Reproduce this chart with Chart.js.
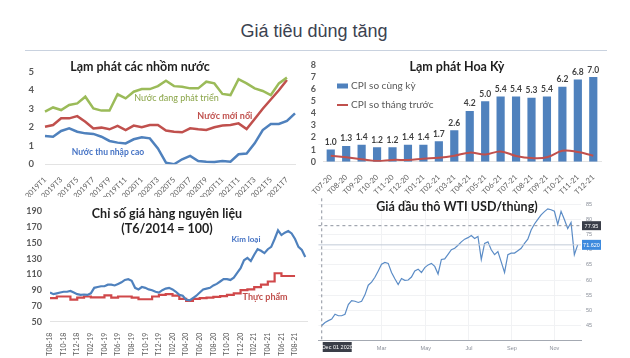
<!DOCTYPE html>
<html>
<head>
<meta charset="utf-8">
<script src="https://cdn.jsdelivr.net/npm/chart.js@4.4.1/dist/chart.umd.min.js"></script>
<style>
  body { margin: 0; background: #fff; }
  #page { position: relative; width: 630px; height: 358px; overflow: hidden; background: #fff; font-family: Lato, "Liberation Sans", sans-serif; }
  canvas { position: absolute; }
  .title { position: absolute; text-align: center; font-weight: bold; font-size: 12.5px; color: #1f1f1f; line-height: 15px; }
  #mainTitle { position: absolute; left: 0; top: 21px; width: 628px; text-align: center; font-family: "Liberation Sans", Arial, sans-serif; font-size: 18px; color: #3b4250; }
  #rule { position: absolute; left: 25px; top: 50px; width: 582px; height: 1px; background: #c9d2df; }
</style>
</head>
<body>
<div id="page">
  <div id="mainTitle">Giá tiêu dùng tăng</div>
  <div id="rule"></div>

  <canvas id="groupsChart" width="310" height="145" style="left:0;top:52px"></canvas>
  <canvas id="usChart" width="320" height="145" style="left:310px;top:52px"></canvas>
  <canvas id="commodityChart" width="320" height="160" style="left:0;top:198px"></canvas>
  <canvas id="oilChart" width="320" height="165" style="left:310px;top:193px"></canvas>

  <div class="title" style="left:40px;top:59px;width:200px">Lạm phát các nhồm nước</div>
  <div class="title" style="left:357px;top:59px;width:200px">Lạm phát Hoa Kỳ</div>
  <div class="title" style="left:67px;top:206px;width:200px">Chỉ số giá hàng nguyên liệu<br>(T6/2014 = 100)</div>
  <div class="title" style="left:357px;top:199px;width:200px">Giá dầu thô WTI USD/thùng)</div>
</div>

<script>
// Lạm phát các nhóm nước (%), monthly
const groupMonths = ['2019T1','2019T2','2019T3','2019T4','2019T5','2019T6','2019T7','2019T8','2019T9','2019T10','2019T11','2019T12',
  '2020T1','2020T2','2020T3','2020T4','2020T5','2020T6','2020T7','2020T8','2020T9','2020T10','2020T11','2020T12',
  '2021T1','2021T2','2021T3','2021T4','2021T5','2021T6','2021T7','2021T8'];
const developingCpi = [2.84,3.07,2.93,3.2,3.29,3.65,3.02,2.9,2.9,3.78,3.56,3.92,
  4.06,4.06,4.22,4.51,4.22,4.19,4.1,4.1,4.46,4.37,3.8,3.74,
  4.6,4.37,4.1,3.96,3.74,4.37,4.68,null];
const emergingCpi = [2.03,2.12,2.48,2.48,2.6,2.3,1.94,1.98,1.89,2.07,1.85,2.09,
  2.0,2.12,2.12,1.82,1.76,1.73,1.94,1.89,1.85,2.0,2.1,2.12,
  2.21,1.9,2.45,3.0,3.5,4.0,4.55,null];
const highIncomeCpi = [1.53,1.49,1.8,1.94,1.76,1.67,1.64,1.49,1.26,1.17,1.13,1.35,
  1.46,1.4,0.86,0.09,0.0,0.27,0.45,0.18,0.14,0.13,0.18,0.14,
  0.54,0.58,1.13,1.85,2.18,2.18,2.34,2.75];

// Lạm phát Hoa Kỳ (%)
const usMonths = ['T07-20','T08-20','T09-20','T10-20','T11-20','T12-20','T01-21','T02-21','T03-21',
  'T04-21','T05-21','T06-21','T07-21','T08-21','T09-21','T10-21','T11-21','T12-21'];
const usCpiYoY = [1.0,1.3,1.4,1.2,1.2,1.4,1.4,1.7,2.6,4.2,5.0,5.4,5.4,5.3,5.4,6.2,6.8,7.0];
const usCpiMoM = [0.5,0.36,0.2,0.05,0.15,0.15,0.25,0.33,0.5,0.75,0.6,0.85,0.48,0.3,0.36,0.9,0.8,0.5];

// Chỉ số giá hàng nguyên liệu, month 0 = T08-18
const commodityTickLabels = ['T08-18','T10-18','T12-18','T02-19','T04-19','T06-19','T08-19','T10-19','T12-19','T02-20',
  'T04-20','T06-20','T08-20','T10-20','T12-20','T02-21','T04-21','T06-21','T08-21'];
const commodityTickMonths = [0,2,4,6,8,10,12,14,16,18,20,22,24,26,28,30,32,34,36];
// kim loại: two readings per month
const metalsIndex = [87,85,86,87,88,88,89,87,85,84,84.5,84,
  86,93,94,95,95,97,97,96,98,100,103,104,
  102,93,91,94,93,91,90,88,87,90,92,93,
  91,88,84,83,78,77,80,83,87,91,92,93,
  96,98,101,104,104,103,106,112,118,128,131,127,
  135,142,140,137,142,145,155,166,160,163,165,162,
  155,145,141,132];
// thực phẩm: one reading per month
const foodIndex = [80,80,82,82,78,80.5,82,81,81,83.5,80.5,82,82,80.5,78.5,78.5,82,84,85,83,79,76.5,79,80,80.5,81.5,82.5,84,86,90,91,94,97,101,111.5,108,108];

// Giá dầu WTI, evenly spaced readings from Dec 01 2020
const wtiPrices = [45,46,46.6,47.1,48.7,48.2,48.2,48.7,51.9,53.2,53,52.6,53,55.1,58.3,59.3,60.9,63,65.2,65.8,
  65.5,62.5,60.4,58.5,60.5,59.9,60,61,63,63.6,62.5,64.1,65,65.5,64.5,62,66.8,67,68.5,70,
  70.5,71.5,72.6,73.5,74,74.7,73.7,74.4,66.8,72.1,72.6,70,68.4,69.4,66,62.5,68.4,68.9,68.9,69.7,
  70.5,72.1,73.5,76.5,78.5,80,81.5,82.6,83.5,83.2,82.7,78.4,82.7,80,77,79,68.4,71.62];
const wtiTickLabels = ['Mar','May','Jul','Sep','Nov'];
const wtiTickIndex = [18,31.3,44.3,57.2,70];
const wtiPriceTicks = [45,50,55,60,65,70,75,80,85];
const wtiCrosshairPrice = 77.95;
const wtiCrosshairDate = 'Dec 01 2020';
const wtiLastLabel = '71.620';

Chart.defaults.font.family = 'Lato, "Liberation Sans", sans-serif';
Chart.defaults.animation = false;
Chart.defaults.responsive = false;
Chart.defaults.plugins.legend.display = false;
Chart.defaults.plugins.tooltip.enabled = false;

const axisGray = '#595959';

// text labels placed in data coordinates
const seriesTags = {
  id: 'seriesTags',
  afterDatasetsDraw(chart, args, opts) {
    const ctx = chart.ctx;
    ctx.save();
    ctx.textAlign = 'center';
    ctx.textBaseline = 'middle';
    (opts.items || []).forEach(t => {
      ctx.font = t.font;
      ctx.fillStyle = t.color;
      ctx.fillText(t.text, chart.scales.x.getPixelForValue(t.x), chart.scales.y.getPixelForValue(t.y));
    });
    ctx.restore();
  }
};

// ---- Lạm phát các nhóm nước
new Chart(document.getElementById('groupsChart'), {
  type: 'line',
  data: {
    labels: groupMonths,
    datasets: [
      { label: 'Nước đang phát triển', data: developingCpi, borderColor: '#9bbb59' },
      { label: 'Nước mới nổi', data: emergingCpi, borderColor: '#c0504d' },
      { label: 'Nước thu nhập cao', data: highIncomeCpi, borderColor: '#4f81bd' }
    ]
  },
  options: {
    layout: { autoPadding: false, padding: { top: 19.7, right: 15, left: 0, bottom: 0 } },
    elements: { point: { radius: 0 }, line: { borderWidth: 2.5, tension: 0 } },
    plugins: {
      seriesTags: { items: [
        { text: 'Nước đang phát triển', x: 16.3, y: 3.55, color: '#8aa548', font: '9px Lato' },
        { text: 'Nước mới nổi', x: 22.3, y: 2.6, color: '#c0504d', font: 'bold 9px Lato' },
        { text: 'Nước thu nhập cao', x: 7.8, y: 0.66, color: '#4472c4', font: 'bold 8.5px Lato' }
      ] }
    },
    scales: {
      x: {
        grid: { display: false },
        border: { color: '#e3e3e3' },
        ticks: { autoSkip: false, minRotation: 45, maxRotation: 45, padding: 3, color: axisGray, font: { size: 7.5 },
          callback: (v, i) => i % 2 === 0 ? groupMonths[i] : '' },
        afterFit: s => { s.height = 32.7; }
      },
      y: {
        min: 0, max: 5,
        grid: { display: false, drawTicks: false },
        border: { display: false },
        ticks: { stepSize: 1, autoSkip: false, padding: 11, color: axisGray, font: { size: 9.5, weight: 'bold' } },
        afterFit: s => { s.width = 45; }
      }
    }
  },
  plugins: [seriesTags]
});

// ---- Lạm phát Hoa Kỳ
const barValues = {
  id: 'barValues',
  afterDatasetsDraw(chart) {
    const ctx = chart.ctx;
    const meta = chart.getDatasetMeta(0);
    ctx.save();
    ctx.font = 'bold 8.5px Lato';
    ctx.fillStyle = '#404040';
    ctx.textAlign = 'center';
    ctx.textBaseline = 'bottom';
    meta.data.forEach((bar, i) => {
      ctx.fillText(chart.data.datasets[0].data[i].toFixed(1), bar.x, bar.y - 3);
    });
    ctx.restore();
  }
};
const usLegend = {
  id: 'usLegend',
  afterDraw(chart) {
    const ctx = chart.ctx;
    ctx.save();
    ctx.font = '10px Lato';
    ctx.textBaseline = 'middle';
    chart.data.datasets.forEach((ds, i) => {
      const y = 34 + i * 19;
      if (ds.type === 'line') {
        ctx.strokeStyle = ds.borderColor;
        ctx.lineWidth = 2;
        ctx.beginPath(); ctx.moveTo(27, y); ctx.lineTo(38, y); ctx.stroke();
      } else {
        ctx.fillStyle = ds.backgroundColor;
        ctx.fillRect(27, y - 2.5, 11, 5);
      }
      ctx.fillStyle = axisGray;
      ctx.fillText(ds.label, 41, y);
    });
    ctx.restore();
  }
};
new Chart(document.getElementById('usChart'), {
  type: 'bar',
  data: {
    labels: usMonths,
    datasets: [
      { type: 'bar', label: 'CPI so cùng kỳ', data: usCpiYoY, backgroundColor: '#4f81bd',
        barPercentage: 0.53, categoryPercentage: 1, order: 2 },
      { type: 'line', label: 'CPI so tháng trước', data: usCpiMoM, borderColor: '#c0504d',
        borderWidth: 2, tension: 0.4, pointRadius: 0, order: 1 }
    ]
  },
  options: {
    layout: { autoPadding: false, padding: { top: 13, right: 29, left: 0, bottom: 0 } },
    scales: {
      x: {
        grid: { display: false },
        border: { color: '#e3e3e3' },
        ticks: { autoSkip: false, minRotation: 45, maxRotation: 45, padding: 3, color: axisGray, font: { size: 7.5 } },
        afterFit: s => { s.height = 35.3; }
      },
      y: {
        min: 0, max: 8,
        grid: { display: false, drawTicks: false },
        border: { display: false },
        ticks: { stepSize: 1, autoSkip: false, padding: 7, color: axisGray, font: { size: 9, weight: 'bold' } },
        afterFit: s => { s.width = 12; }
      }
    }
  },
  plugins: [barValues, usLegend]
});

// ---- Chỉ số giá hàng nguyên liệu
new Chart(document.getElementById('commodityChart'), {
  type: 'line',
  data: {
    datasets: [
      { label: 'Kim loại', data: metalsIndex.map((v, i) => ({ x: i / 2, y: v })), borderColor: '#4f81bd' },
      { label: 'Thực phẩm', data: foodIndex.map((v, i) => ({ x: i, y: v })), borderColor: '#d0484a', stepped: 'after' }
    ]
  },
  options: {
    layout: { autoPadding: false, padding: { top: 12, right: 12.7, left: 0, bottom: 0 } },
    elements: { point: { radius: 0 }, line: { borderWidth: 2.2, tension: 0 } },
    plugins: {
      seriesTags: { items: [
        { text: 'Kim loại', x: 28.8, y: 155, color: '#4472c4', font: 'bold 8px Lato' },
        { text: 'Thực phẩm', x: 31.6, y: 81, color: '#c0504d', font: 'bold 9px Lato' }
      ] }
    },
    scales: {
      x: {
        type: 'linear', min: 0, max: 37.8,
        afterBuildTicks: s => { s.ticks = commodityTickMonths.map(v => ({ value: v })); },
        grid: { display: false },
        border: { color: '#e3e3e3' },
        ticks: { autoSkip: false, minRotation: 90, maxRotation: 90, padding: 3, color: axisGray, font: { size: 7 },
          callback: (v, i) => commodityTickLabels[i] },
        afterFit: s => { s.height = 36.3; }
      },
      y: {
        min: 50, max: 190,
        grid: { display: false, drawTicks: false },
        border: { display: false },
        ticks: { stepSize: 20, autoSkip: false, padding: 8, color: axisGray, font: { size: 9, weight: 'bold' } },
        afterFit: s => { s.width = 50; }
      }
    }
  },
  plugins: [seriesTags]
});

// ---- Giá dầu WTI
const oilMarkers = {
  id: 'oilMarkers',
  afterDatasetsDraw(chart) {
    const ctx = chart.ctx, a = chart.chartArea;
    const xs = chart.scales.x, ys = chart.scales.y;
    const ds = chart.data.datasets[0].data;
    const lastY = ys.getPixelForValue(ds[ds.length - 1].y);
    const crossY = ys.getPixelForValue(wtiCrosshairPrice);
    const crossX = xs.getPixelForValue(0);
    ctx.save();
    ctx.strokeStyle = '#c3ccd8';
    ctx.lineWidth = 1;
    ctx.beginPath(); ctx.moveTo(a.left, lastY); ctx.lineTo(a.right, lastY); ctx.stroke();
    ctx.setLineDash([3, 3]);
    ctx.strokeStyle = '#8d939e';
    ctx.beginPath(); ctx.moveTo(a.left, crossY); ctx.lineTo(a.right, crossY); ctx.stroke();
    ctx.beginPath(); ctx.moveTo(crossX, a.top - 3); ctx.lineTo(crossX, a.bottom); ctx.stroke();
    ctx.setLineDash([]);
    ctx.font = '5.5px "Liberation Sans"';
    ctx.textAlign = 'center';
    ctx.textBaseline = 'middle';
    const box = (x, y, w, h, bg, text) => {
      ctx.fillStyle = bg; ctx.fillRect(x, y, w, h);
      ctx.fillStyle = '#fff'; ctx.fillText(text, x + w / 2, y + h / 2 + 0.5);
    };
    box(a.right + 1, crossY - 4.5, 19, 9, '#3a3e48', wtiCrosshairPrice.toFixed(2));
    box(a.right + 1, lastY - 5, 19, 10, '#3d8ade', wtiLastLabel);
    box(crossX + 1, a.bottom + 2, 29, 10, '#3a3e48', wtiCrosshairDate);
    ctx.restore();
  }
};
new Chart(document.getElementById('oilChart'), {
  type: 'line',
  data: {
    datasets: [
      { label: 'WTI', data: wtiPrices.map((v, i) => ({ x: i, y: v })), borderColor: '#5b8cc6', borderWidth: 1.2, pointRadius: 0, tension: 0 }
    ]
  },
  options: {
    layout: { autoPadding: false, padding: { top: 3.3, right: 0, left: 8.4, bottom: 0 } },
    scales: {
      x: {
        type: 'linear', min: -1, max: 78,
        afterBuildTicks: s => { s.ticks = wtiTickIndex.map(v => ({ value: v })); },
        grid: { color: '#f1f2f4', drawTicks: false },
        border: { color: '#a4a9b2' },
        ticks: { autoSkip: false, maxRotation: 0, padding: 5, color: '#8a8f99', font: { size: 5.5, family: '"Liberation Sans"' },
          callback: (v, i) => wtiTickLabels[i] },
        afterFit: s => { s.height = 18; }
      },
      y: {
        position: 'right', min: 40.2, max: 86,
        afterBuildTicks: s => { s.ticks = wtiPriceTicks.map(v => ({ value: v })); },
        grid: { color: '#f1f2f4', drawTicks: false },
        border: { display: false },
        ticks: { autoSkip: false, padding: 5, color: '#8a8f99', font: { size: 5.5, family: '"Liberation Sans"' } },
        afterFit: s => { s.width = 49; }
      }
    }
  },
  plugins: [oilMarkers]
});
</script>
</body>
</html>
